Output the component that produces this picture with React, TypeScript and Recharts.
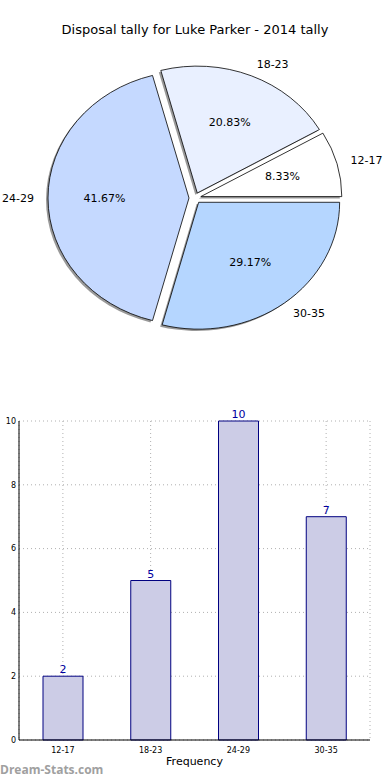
import React from 'react';
import { PieChart, Pie, Cell, Sector, Tooltip, BarChart, Bar, XAxis, YAxis, CartesianGrid, LabelList } from 'recharts';

const RANGES = ['12-17', '18-23', '24-29', '30-35'];
const TALLY = [2, 5, 10, 7];
const PIE_COLORS = ['#ffffff', '#e9f0ff', '#c5d9ff', '#b5d6ff'];
const Y_TICKS = [0, 2, 4, 6, 8, 10];

const data = RANGES.map((name, i) => ({ name, value: TALLY[i] }));

const RADIAN = Math.PI / 180;
const EXPLODE = 6;
const SY = 0.9; // the pie axes are not square, so the pie is a bit squashed
const FONT = '"DejaVu Sans", sans-serif';

// matplotlib style "explode" + shadow
const ExplodedSector = (props: any) => {
    const { cx, cy, midAngle } = props;
    const dx = EXPLODE * Math.cos(-midAngle * RADIAN);
    const dy = EXPLODE * Math.sin(-midAngle * RADIAN);
    return (
        <g transform={`translate(0 ${cy}) scale(1 ${SY}) translate(0 ${-cy})`}>
            <Sector {...props} cx={cx + dx - 2} cy={cy + dy + 2} fill="#000" fillOpacity={0.4} stroke="none" />
            <Sector {...props} cx={cx + dx} cy={cy + dy} stroke="#000" strokeWidth={0.8} vectorEffect="non-scaling-stroke" />
        </g>
    );
};

const renderLabel = ({ cx, cy, midAngle, outerRadius, percent, name }: any) => {
    const cos = Math.cos(-midAngle * RADIAN);
    const sin = Math.sin(-midAngle * RADIAN);
    const nx = cx + (EXPLODE + outerRadius * 1.1) * cos;
    const ny = cy + (EXPLODE + outerRadius * 1.1) * sin * SY;
    const px = cx + (EXPLODE + outerRadius * 0.6) * cos;
    const py = cy + (EXPLODE + outerRadius * 0.6) * sin * SY;
    return (
        <g>
            <text x={nx} y={ny} textAnchor={cos >= 0 ? 'start' : 'end'} dominantBaseline="central" fontSize={11} fill="#000" fontFamily={FONT}>{name}</text>
            <text x={px} y={py} textAnchor="middle" dominantBaseline="central" fontSize={11} fill="#000" fontFamily={FONT}>{`${(percent * 100).toFixed(2)}%`}</text>
        </g>
    );
};

const App = () => {
    return (
        <div style={{ position: 'absolute', left: 0, top: 0, width: 390, height: 780, background: '#fff', fontFamily: FONT, overflow: 'hidden' }}>
            <div style={{ position: 'absolute', top: 22, left: 0, width: 390, textAlign: 'center', fontSize: 13, lineHeight: '16px', color: '#000' }}>
                Disposal tally for Luke Parker - 2014 tally
            </div>
            <div style={{ position: 'absolute', top: 0, left: 0 }}>
                <PieChart width={390} height={360} margin={{ top: 0, right: 0, bottom: 0, left: 0 }}>
                    <Pie
                        data={data}
                        dataKey="value"
                        nameKey="name"
                        cx={195}
                        cy={198}
                        outerRadius={141}
                        startAngle={0}
                        endAngle={360}
                        labelLine={false}
                        label={renderLabel}
                        shape={ExplodedSector}
                        activeShape={ExplodedSector}
                        inactiveShape={ExplodedSector}
                        isAnimationActive={false}
                    >
                        {data.map((entry, i) => (
                            <Cell key={entry.name} fill={PIE_COLORS[i]} />
                        ))}
                    </Pie>
                    <Tooltip defaultIndex={0} content={() => null} cursor={false} />
                </PieChart>
            </div>
            <div style={{ position: 'absolute', top: 400, left: 0 }}>
                <BarChart width={390} height={380} data={data} margin={{ top: 21, right: 20, left: 0, bottom: 0 }}>
                    <CartesianGrid stroke="#b0b0b0" strokeDasharray="1 3" />
                    <XAxis dataKey="name" height={40} tickLine={false} tickSize={3} tickMargin={4} axisLine={{ stroke: '#000' }}
                        tick={{ fontSize: 8, fill: '#000', fontFamily: FONT }}
                        label={{ value: 'Frequency', position: 'insideBottom', offset: 15, fontSize: 11, fill: '#000', fontFamily: FONT }} />
                    <XAxis xAxisId="top" dataKey="name" orientation="top" height={0} tick={false} tickLine={false} axisLine={{ stroke: '#000' }} />
                    <YAxis domain={[0, 10]} ticks={Y_TICKS} width={19} tickLine={false} tickSize={3} tickMargin={0} axisLine={{ stroke: '#000' }}
                        tick={{ fontSize: 8, fill: '#000', fontFamily: FONT }} />
                    <YAxis yAxisId="right" orientation="right" width={0} domain={[0, 10]} tick={false} tickLine={false} axisLine={{ stroke: '#000' }} />
                    <Bar dataKey="value" barSize={40} fill="#cccce6" stroke="#000080" strokeWidth={1} isAnimationActive={false}>
                        <LabelList dataKey="value" position="top" offset={3} fill="#0000a0" fontSize={11} fontFamily={FONT} />
                    </Bar>
                </BarChart>
            </div>
            {/* y axis title sits mostly off the left edge, as in the original image */}
            <div style={{ position: 'absolute', left: -5, top: 570, width: 120, textAlign: 'center', fontSize: 9, lineHeight: '10px', transform: 'translate(-50%, -50%) rotate(-90deg)', color: '#000' }}>
                Disposal Tally
            </div>
            <div style={{ position: 'absolute', left: 0, top: 762, fontSize: 12, fontWeight: 'bold', color: '#a0a0a0', fontFamily: '"Open Sans", sans-serif', lineHeight: '16px' }}>
                Dream-Stats.com
            </div>
        </div>
    );
};

export default App;
